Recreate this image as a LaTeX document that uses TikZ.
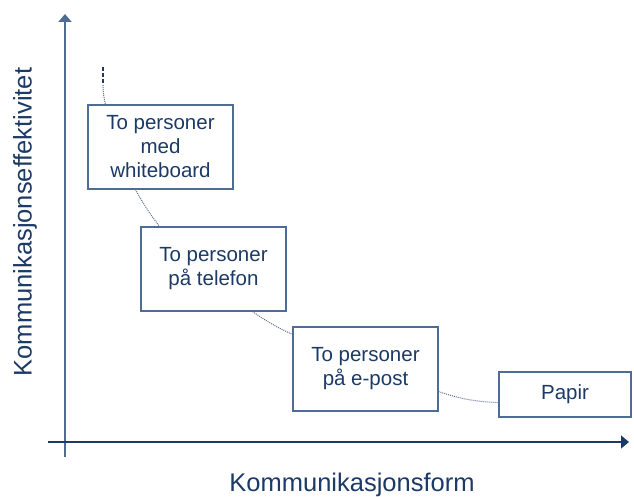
\documentclass[tikz,border=0pt]{standalone}
\usepackage{fontspec}
\setmainfont{Liberation Sans}
\usetikzlibrary{arrows.meta}
\definecolor{navy}{HTML}{1C3A66}
\definecolor{slate}{HTML}{4D6C96}
\definecolor{dotgrey}{HTML}{5E7093}
\tikzset{
  boks/.style={draw=slate, line width=1.1pt, fill=white, text=navy, align=center,
    inner sep=0pt, font=\fontsize{20.5}{24}\selectfont},
  akse/.style={line width=1.4pt, -{Triangle[length=8pt,width=13pt]}},
  curve/.style={draw=dotgrey, line width=1pt, dash pattern=on 1pt off 1pt},
  dashline/.style={draw=navy, line width=1.6pt, dash pattern=on 4pt off 2pt},
  label/.style={text=navy, font=\fontsize{25.5}{30}\selectfont}
}
\begin{document}
\begin{tikzpicture}[x=1pt, y=-1pt]
    \useasboundingbox (0,0) rectangle (634,497);
    % axes
    \coordinate (O) at (65,442);
    \coordinate (Y0) at (65,457);
    \coordinate (Y1) at (65,14);
    \coordinate (X0) at (48,442);
    \coordinate (X1) at (629,442);
    \draw [akse, draw=slate, fill=navy, line width=1.8pt] (Y0) -- (Y1);
    \draw [akse, draw=navy, fill=navy] (X0) -- (X1);
    \node [label, rotate=90] (YL) at (25,222) {Kommunikasjonseffektivitet};
    \node [label] (XL) at (352,485) {Kommunikasjonsform};
    % boxes
    \node [boks, minimum width=145pt, minimum height=84pt] (B0) at (160.5,147) {To personer\\med\\whiteboard};
    \node [boks, minimum width=145pt, minimum height=84pt] (B1) at (213.5,269) {To personer\\på telefon};
    \node [boks, minimum width=145pt, minimum height=84pt] (B2) at (365.5,369) {To personer\\på e-post};
    \node [boks, minimum width=132pt, minimum height=45pt] (B3) at (565,394.5) {Papir};
    % curve
    \coordinate (C0) at (103,67);
    \coordinate (C1) at (103,85);
    \path (C0) edge [dashline] (C1);
    \path (C1) edge [curve, bend right=6] ([xshift=18pt]B0.north west);
    \path ([xshift=48pt]B0.south west) edge [curve, bend right=4] ([xshift=19pt]B1.north west);
    \path ([xshift=-34pt]B1.south east) edge [curve, bend right=5] ([yshift=-8pt]B2.north west);
    \path ([yshift=20pt]B2.south east) edge [curve, bend right=8] ([yshift=15pt]B3.south west);
  \end{tikzpicture}
\end{document}
